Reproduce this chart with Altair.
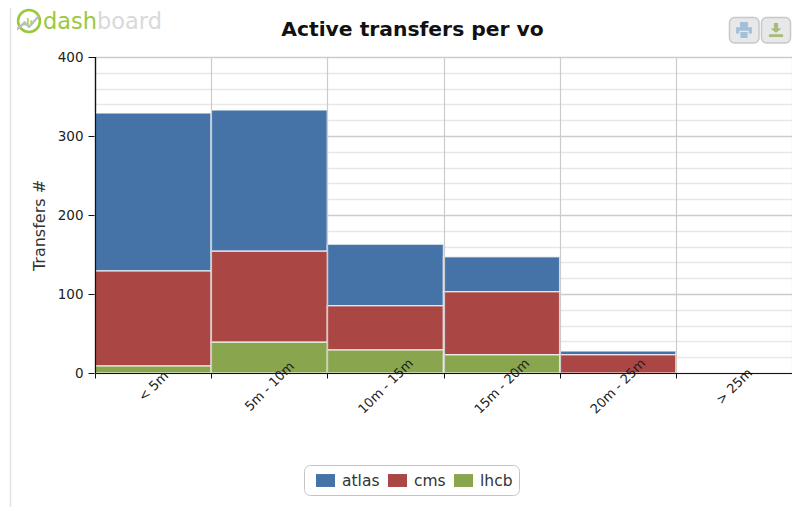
import altair as alt
import pandas as pd

categories = ["< 5m", "5m - 10m", "10m - 15m", "15m - 20m", "20m - 25m", "> 25m"]
atlas = [200, 179, 78, 44, 5, 0]
cms = [120, 115, 56, 80, 23, 0]
lhcb = [9, 39, 29, 23, 0, 0]
series = ["atlas", "cms", "lhcb"]
colors = ["#4572A7", "#AA4643", "#89A54E"]
y_ticks = list(range(0, 401, 20))

rows = []
for name, vals in zip(series, [atlas, cms, lhcb]):
    for c, v in zip(categories, vals):
        if v > 0:
            rows.append({"range": c, "vo": name, "n": v, "ord": series.index(name)})
df = pd.DataFrame(rows)
one = pd.DataFrame({"a": [0]})
FONT = "DejaVu Sans"
x_scale = alt.Scale(domain=categories, paddingInner=0, paddingOuter=0)

bars = alt.Chart(df).mark_bar(stroke="#ffffff", strokeWidth=1.5, strokeOpacity=0.65).encode(
    x=alt.X("range:N", sort=categories, scale=x_scale,
            axis=alt.Axis(title=None, labelAngle=-45, labelAlign="center", labelBaseline="middle",
                          labelPadding=8, labelFont=FONT, labelFontSize=13, labelColor="#222222",
                          labelOverlap=False, tickBand="extent", tickColor="#111111", tickSize=5,
                          domainColor="#111111", domainWidth=1.2, grid=True, gridColor="#cccccc",
                          gridOpacity={"condition": {"test": "datum.extra", "value": 0}, "value": 1},
                          gridWidth=1.2, zindex=1)),
    y=alt.Y("n:Q", stack="zero", scale=alt.Scale(domain=[0, 400], nice=False),
            axis=alt.Axis(values=y_ticks, title="Transfers #", titleFont=FONT, titleFontSize=16,
                          titleFontWeight="normal", titleColor="#333333", titleX=-48, titleY=168,
                          labelFont=FONT, labelFontSize=13.5, labelColor="#222222", labelPadding=5,
                          labelExpr="datum.value % 100 === 0 ? datum.label : ''",
                          labelOverlap=False, tickSize=7, tickColor="#111111",
                          tickOpacity={"condition": {"test": "datum.value % 100 === 0", "value": 1}, "value": 0},
                          domainColor="#111111", domainWidth=1.2, grid=True,
                          gridColor={"condition": {"test": "datum.value % 100 === 0", "value": "#cccccc"},
                                     "value": "#e8e8e8"},
                          gridWidth=1.3)),
    color=alt.Color("vo:N", scale=alt.Scale(domain=series, range=colors),
                    legend=alt.Legend(title=None, orient="none", legendX=209, legendY=408, direction="horizontal",
                                      columns=3, columnPadding=2, symbolType="M-1,-0.68H1V0.68H-1Z", symbolSize=361,
                                      symbolStrokeWidth=0, symbolOpacity=1, symbolOffset=6, labelFont=FONT,
                                      labelFontSize=15.5, labelColor="#333333", labelOffset=7, padding=6,
                                      strokeColor="#c4c4c4", cornerRadius=6, fillColor="#ffffff")),
    order=alt.Order("ord:Q", sort="descending"),
)


def box(x, x2, y, y2, **kw):
    return alt.Chart(one).mark_rect(**kw).encode(
        x=alt.value(x - 95), x2=alt.value(x2 - 95), y=alt.value(y - 57), y2=alt.value(y2 - 57))


def label(x, y, text, **kw):
    return alt.Chart(one).mark_text(text=text, font=FONT, align="left", baseline="middle", **kw).encode(
        x=alt.value(x - 95), y=alt.value(y - 57))


def glyph(x, y, shape, size, color):
    return alt.Chart(one).mark_point(shape=shape, size=size, filled=True, color=color, opacity=1).encode(
        x=alt.value(x - 95), y=alt.value(y - 57))


card = box(10.5, 840, 4.5, 600, fill="transparent", stroke="#e2e2e2", strokeWidth=1.5, cornerRadius=5)
y_line = alt.Chart(one).mark_rule(color="#111111", strokeWidth=1.2).encode(
    x=alt.value(0.5), y=alt.value(0), y2=alt.value(316))

logo_ring = alt.Chart(one).mark_point(shape="circle", size=480, filled=False, color="#99c93c", strokeWidth=2.6,
                                      opacity=1).encode(x=alt.value(29 - 95), y=alt.value(21 - 57))
logo_bars = glyph(28, 22, "M-0.8,0.6V-0.1H-0.45V0.6ZM-0.2,0.6V-0.7H0.15V0.6ZM0.4,0.6V-0.3H0.75V0.6Z", 130, "#b5d66e")
logo_line = glyph(28, 22, "M-1,0.5L-0.3,-0.1L0.1,0.3L1,-0.7L1,-0.4L0.1,0.6L-0.3,0.2L-1,0.8Z", 480, "#bdbdbd")
logo_a = label(43, 22, "dash", color="#99c93c", fontSize=22.5, fontWeight="normal")
logo_b = label(97, 22, "board", color="#d9d9d9", fontSize=22.5, fontWeight="normal")

btn1 = box(729.5, 759, 17.5, 43, fill="#e6e8ea", stroke="#c8c8c8", strokeWidth=1.5, cornerRadius=5)
btn2 = box(761.5, 790.5, 17.5, 43, fill="#e6e8ea", stroke="#c8c8c8", strokeWidth=1.5, cornerRadius=5)
ico1 = glyph(744, 30, "M-0.5,-1H0.5V-0.35H1V0.45H0.6V0.1H-0.6V0.45H-1V-0.35H-0.5ZM-0.45,0.25H0.45V1H-0.45Z", 250, "#a3bfd9")
ico2 = glyph(776, 30, "M-0.3,-1H0.3V-0.2H0.8L0,0.4L-0.8,-0.2H-0.3ZM-1,0.6H1V1H-1Z", 200, "#a6bc78")

chart = alt.layer(card, bars, y_line, logo_ring, logo_bars, logo_line, logo_a, logo_b,
                  btn1, btn2, ico1, ico2).properties(
    width=697, height=316,
    title=alt.TitleParams("Active transfers per vo", font=FONT, fontSize=20.3, fontWeight="bold", color="#111111",
                          anchor="middle", dx=-31, dy=55, offset=18),
    autosize=alt.AutoSizeParams(type="none"),
    padding={"left": 87, "top": 49, "right": 0, "bottom": 134},
).configure_view(stroke=None)

chart.save("out.html", embed_options={"renderer": "svg", "actions": False})
